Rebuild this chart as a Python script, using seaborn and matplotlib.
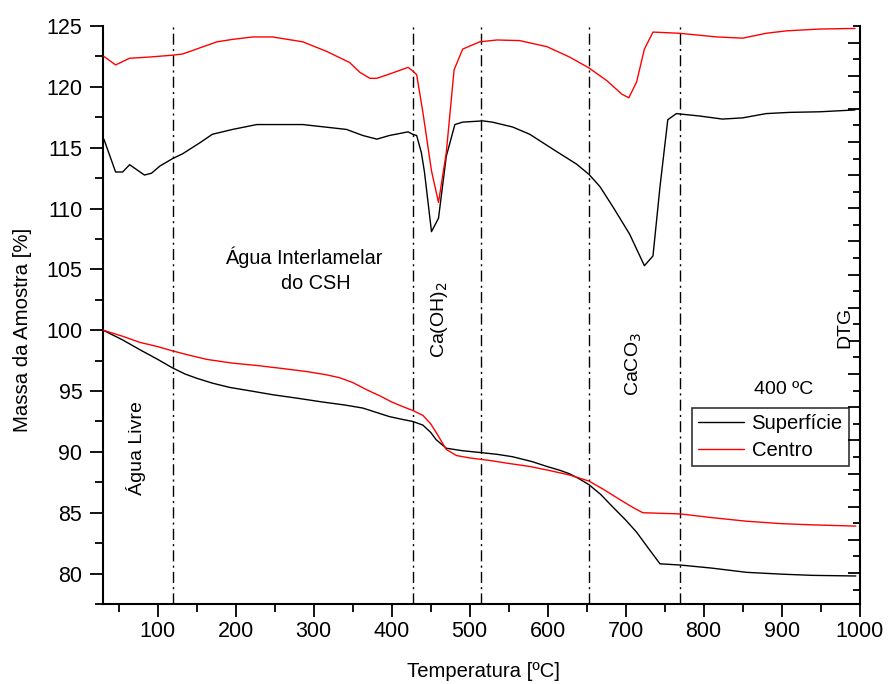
import numpy as np
import pandas as pd
import matplotlib
matplotlib.use("Agg")
import matplotlib.pyplot as plt
import seaborn as sns
from matplotlib.ticker import MultipleLocator

# ---------------- data ----------------
series_names = ["Superfície", "Centro"]
series_colors = ["black", "red"]

# TG curves (mass %)
tg_sup_x = [30, 55, 77, 100, 119, 135, 150, 170, 192, 220, 247, 280, 311, 340, 363, 380, 397, 415, 427, 440, 450, 457, 470, 490, 513, 535, 555, 580, 599, 615, 628, 640, 653, 668, 683, 700, 714, 730, 744, 770, 810, 855, 900, 940, 995]
tg_sup_y = [100, 99.2, 98.4, 97.6, 96.9, 96.4, 96.05, 95.65, 95.3, 95.0, 94.7, 94.4, 94.1, 93.85, 93.6, 93.25, 92.9, 92.65, 92.5, 92.2, 91.6, 91.0, 90.3, 90.1, 89.95, 89.8, 89.6, 89.2, 88.8, 88.5, 88.2, 87.8, 87.3, 86.5, 85.5, 84.4, 83.4, 82.0, 80.8, 80.7, 80.45, 80.1, 79.95, 79.85, 79.8]

tg_cen_x = [30, 55, 77, 100, 119, 140, 163, 195, 227, 260, 291, 315, 333, 350, 368, 385, 400, 415, 427, 440, 450, 457, 470, 483, 500, 525, 550, 577, 600, 628, 653, 672, 692, 710, 722, 745, 770, 810, 855, 900, 940, 995]
tg_cen_y = [100, 99.5, 99.0, 98.65, 98.3, 97.95, 97.6, 97.3, 97.1, 96.85, 96.6, 96.35, 96.1, 95.7, 95.1, 94.6, 94.1, 93.7, 93.4, 93.0, 92.3, 91.6, 90.2, 89.7, 89.5, 89.3, 89.05, 88.8, 88.5, 88.1, 87.6, 86.9, 86.1, 85.4, 85.0, 84.95, 84.9, 84.6, 84.3, 84.1, 84.0, 83.9]

# DTG curves (drawn in the same vertical frame, values as read on the left scale)
dtg_sup_x = [31, 46, 55, 64, 83, 92, 103, 119, 132, 154, 170, 196, 227, 286, 342, 363, 381, 397, 421, 427, 432, 438, 442, 451, 460, 470, 481, 491, 517, 529, 555, 577, 611, 637, 653, 667, 684, 705, 724, 735, 744, 754, 765, 795, 824, 850, 880, 910, 949, 994]
dtg_sup_y = [115.7, 113.0, 113.0, 113.6, 112.75, 112.9, 113.5, 114.1, 114.5, 115.4, 116.1, 116.5, 116.9, 116.9, 116.5, 116.0, 115.7, 116.0, 116.3, 116.1, 116.0, 114.6, 113.0, 108.1, 109.2, 114.3, 116.9, 117.1, 117.2, 117.1, 116.7, 116.1, 114.7, 113.65, 112.8, 111.8, 110.1, 107.9, 105.3, 106.1, 111.8, 117.3, 117.8, 117.6, 117.35, 117.45, 117.8, 117.9, 117.95, 118.1]

dtg_cen_x = [31, 46, 64, 90, 119, 132, 154, 176, 196, 222, 247, 286, 317, 346, 359, 372, 381, 397, 421, 427, 432, 440, 451, 460, 470, 480, 491, 513, 535, 564, 599, 628, 653, 676, 695, 704, 714, 724, 735, 769, 817, 850, 880, 906, 949, 994]
dtg_cen_y = [122.5, 121.8, 122.35, 122.45, 122.6, 122.7, 123.2, 123.7, 123.9, 124.1, 124.1, 123.7, 122.9, 122.0, 121.2, 120.7, 120.7, 121.05, 121.6, 121.3, 121.0, 117.9, 113.1, 110.5, 114.6, 121.4, 123.1, 123.7, 123.85, 123.8, 123.3, 122.45, 121.55, 120.5, 119.4, 119.1, 120.4, 123.1, 124.5, 124.4, 124.1, 124.0, 124.4, 124.6, 124.75, 124.8]

# event boundaries (vertical dash-dot lines)
boundaries = [120, 427, 515, 653, 770]

x_ticks = [100, 200, 300, 400, 500, 600, 700, 800, 900, 1000]
y_ticks = [80, 85, 90, 95, 100, 105, 110, 115, 120, 125]

# ---------------- figure ----------------
sns.set_theme(style="ticks")
plt.rcParams["font.family"] = ["Liberation Sans", "DejaVu Sans"]
plt.rcParams.update({
    "text.color": "black", "axes.labelcolor": "black",
    "xtick.color": "black", "ytick.color": "black", "axes.edgecolor": "black",
})

tg = pd.concat([
    pd.DataFrame({"T": tg_sup_x, "m": tg_sup_y, "s": series_names[0]}),
    pd.DataFrame({"T": tg_cen_x, "m": tg_cen_y, "s": series_names[1]}),
])
dtg = pd.concat([
    pd.DataFrame({"T": dtg_sup_x, "m": dtg_sup_y, "s": series_names[0]}),
    pd.DataFrame({"T": dtg_cen_x, "m": dtg_cen_y, "s": series_names[1]}),
])
palette = dict(zip(series_names, series_colors))

fig = plt.figure(figsize=(8.89, 6.84), dpi=100)
ax = fig.add_axes([0.116, 0.117, 0.851, 0.845])

for xb in boundaries:
    ax.axvline(xb, color="black", lw=1.0, ls=(0, (8, 3, 1.5, 3)), zorder=1)

sns.lineplot(data=tg, x="T", y="m", hue="s", palette=palette, ax=ax,
             linewidth=1.0, sort=False, estimator=None, legend=True, zorder=3)
sns.lineplot(data=dtg, x="T", y="m", hue="s", palette=palette, ax=ax,
             linewidth=1.0, sort=False, estimator=None, legend=False, zorder=3)

ax.set_xlim(30, 1000)
ax.set_ylim(77.5, 125)
ax.set_xticks(x_ticks)
ax.set_yticks(y_ticks)
ax.xaxis.set_minor_locator(MultipleLocator(50))
ax.yaxis.set_minor_locator(MultipleLocator(2.5))
ax.tick_params(which="major", direction="out", length=9.5, width=1.3, labelsize=15.5)
ax.tick_params(which="minor", direction="out", length=5.5, width=1.3)
ax.tick_params(axis="y", which="major", pad=5.5)
ax.tick_params(axis="x", which="major", pad=3)
ax.tick_params(axis="y", which="both", right=False)
ax.tick_params(axis="x", which="both", top=False)
for side in ["left", "bottom"]:
    ax.spines[side].set_linewidth(1.5)
ax.spines["top"].set_visible(False)
ax.spines["right"].set_visible(False)

ax.set_xlabel("Temperatura [ºC]", fontsize=14.6)
ax.set_ylabel("Massa da Amostra [%]", fontsize=14.7)
ax.xaxis.set_label_coords(0.503, -0.100)
ax.yaxis.set_label_coords(-0.094, 0.474)

# right (DTG) axis: ticks only
ax2 = ax.twinx()
ax2.set_ylim(-0.935, 16.5)
ax2.yaxis.set_major_locator(MultipleLocator(1))
ax2.yaxis.set_minor_locator(MultipleLocator(0.5))
ax2.tick_params(axis="y", which="major", direction="in", length=9, width=1.3, labelright=False)
ax2.tick_params(axis="y", which="minor", direction="in", length=5, width=1.3)
for side in ["left", "bottom", "top"]:
    ax2.spines[side].set_visible(False)
ax2.spines["right"].set_linewidth(1.5)

# annotations
ax.text(72, 90.3, "Água Livre", rotation=90, ha="center", va="center", fontsize=14)
ax.text(287, 106.0, "Água Interlamelar", ha="center", va="center", fontsize=14.3)
ax.text(258, 103.85, "do CSH", ha="left", va="center", fontsize=14.3)
ax.text(461, 100.9, "Ca(OH)$_2$", rotation=90, ha="center", va="center", fontsize=14)
ax.text(711, 97.2, "CaCO$_3$", rotation=90, ha="center", va="center", fontsize=14)
ax.text(981, 100.25, "DTG", rotation=90, ha="center", va="center", fontsize=14)
ax.text(902, 95.1, "400 ºC", ha="center", va="center", fontsize=14)

handles, labels = ax.get_legend_handles_labels()
leg = ax.legend(handles, labels, loc="upper left", bbox_to_anchor=(0.778, 0.339),
                fontsize=14.6, frameon=True, fancybox=False, edgecolor="black",
                borderpad=0.3, handlelength=2.3, handletextpad=0.35, labelspacing=0.4,
                borderaxespad=0, handleheight=0.7)
leg.get_frame().set_linewidth(1.2)
leg.set_zorder(5)

fig.savefig("out.png", dpi=100)
